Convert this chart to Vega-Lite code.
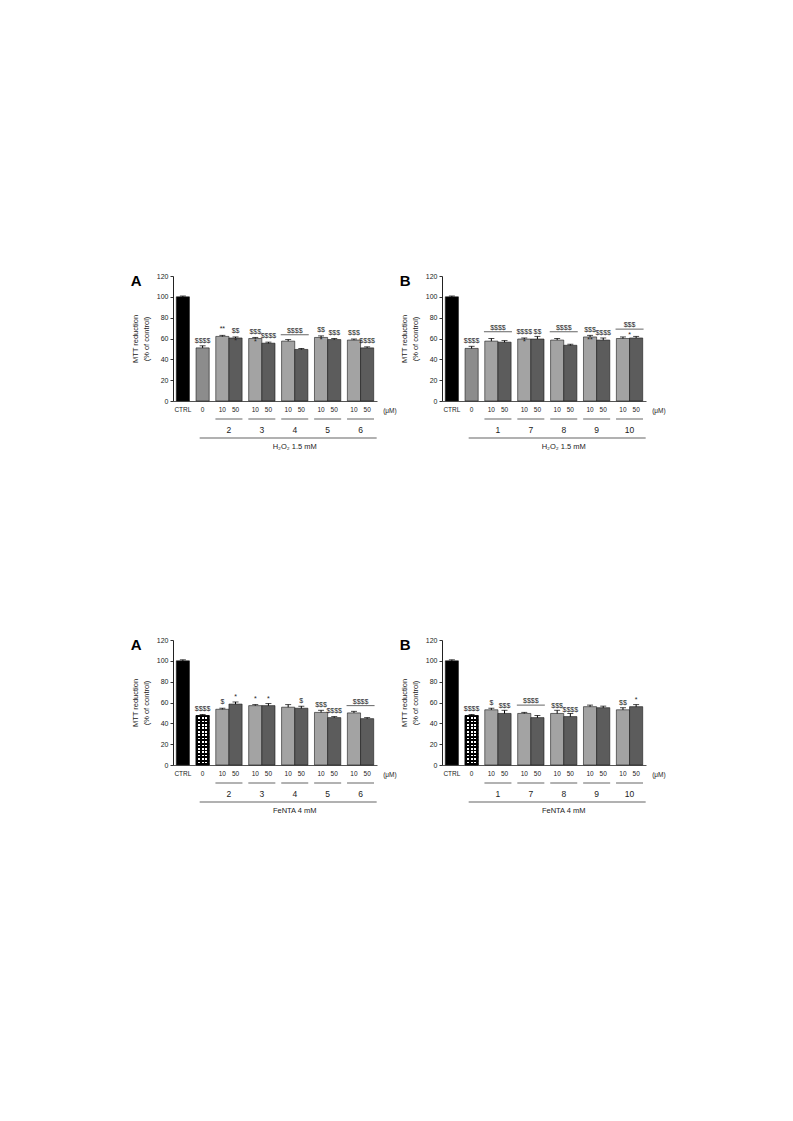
{
"$schema": "https://vega.github.io/schema/vega-lite/v6.json",
"background": "white",
"padding": {"left": 130, "top": 272, "right": 5, "bottom": 5},
"config": {
  "font": "Liberation Sans",
  "view": {"stroke": null},
  "axis": {"grid": false, "labelColor": "#222", "titleColor": "#222", "domainColor": "#333", "tickColor": "#333"},
  "text": {"color": "#222"}
},
"datasets": {
  "tA": [
    {"slot":"CTRL","grp":"CTRL","dose":"CTRL","mean":100,"err":0.8,"sig":""},
    {"slot":"0","grp":"0","dose":"0","mean":51,"err":2,"sig":"$$$$"},
    {"slot":"2|10","grp":"2","dose":"10","mean":62,"err":1,"sig":"**"},
    {"slot":"2|50","grp":"2","dose":"50","mean":60.5,"err":1,"sig":"$$\n*"},
    {"slot":"3|10","grp":"3","dose":"10","mean":60,"err":1,"sig":"$$$\n*"},
    {"slot":"3|50","grp":"3","dose":"50","mean":55.5,"err":1,"sig":"$$$$"},
    {"slot":"4|10","grp":"4","dose":"10","mean":57.5,"err":1.5,"sig":""},
    {"slot":"4|50","grp":"4","dose":"50","mean":49.5,"err":1,"sig":""},
    {"slot":"5|10","grp":"5","dose":"10","mean":61,"err":1.5,"sig":"$$\n*"},
    {"slot":"5|50","grp":"5","dose":"50","mean":59,"err":1,"sig":"$$$"},
    {"slot":"6|10","grp":"6","dose":"10","mean":58.5,"err":1,"sig":"$$$"},
    {"slot":"6|50","grp":"6","dose":"50","mean":51,"err":1,"sig":"$$$$"}
  ],
  "tA_brk": [{"grp":"4","level":63.5,"label":"$$$$"}],
  "tB": [
    {"slot":"CTRL","grp":"CTRL","dose":"CTRL","mean":100,"err":0.8,"sig":""},
    {"slot":"0","grp":"0","dose":"0","mean":50.5,"err":2,"sig":"$$$$"},
    {"slot":"1|10","grp":"1","dose":"10","mean":57.5,"err":2.5,"sig":""},
    {"slot":"1|50","grp":"1","dose":"50","mean":56.5,"err":1.5,"sig":""},
    {"slot":"7|10","grp":"7","dose":"10","mean":59.5,"err":1,"sig":"$$$$\n*"},
    {"slot":"7|50","grp":"7","dose":"50","mean":59.5,"err":2.5,"sig":"$$"},
    {"slot":"8|10","grp":"8","dose":"10","mean":58.5,"err":1.5,"sig":""},
    {"slot":"8|50","grp":"8","dose":"50","mean":53.5,"err":1,"sig":""},
    {"slot":"9|10","grp":"9","dose":"10","mean":61.5,"err":1.5,"sig":"$$$\n**"},
    {"slot":"9|50","grp":"9","dose":"50","mean":58.5,"err":2,"sig":"$$$$"},
    {"slot":"10|10","grp":"10","dose":"10","mean":60,"err":1.5,"sig":""},
    {"slot":"10|50","grp":"10","dose":"50","mean":60.5,"err":1.5,"sig":""}
  ],
  "tB_brk": [
    {"grp":"1","level":66.5,"label":"$$$$"},
    {"grp":"8","level":66.5,"label":"$$$$"},
    {"grp":"10","level":69,"label":"$$$\n*"}
  ],
  "fA": [
    {"slot":"CTRL","grp":"CTRL","dose":"CTRL","mean":100,"err":1,"sig":""},
    {"slot":"0","grp":"0","dose":"0","mean":47.5,"err":1,"sig":"$$$$"},
    {"slot":"2|10","grp":"2","dose":"10","mean":53.5,"err":1,"sig":"$"},
    {"slot":"2|50","grp":"2","dose":"50","mean":58.5,"err":2,"sig":"*"},
    {"slot":"3|10","grp":"3","dose":"10","mean":57,"err":1,"sig":"*"},
    {"slot":"3|50","grp":"3","dose":"50","mean":57,"err":2,"sig":"*"},
    {"slot":"4|10","grp":"4","dose":"10","mean":55.5,"err":2.5,"sig":""},
    {"slot":"4|50","grp":"4","dose":"50","mean":54.5,"err":2,"sig":"$"},
    {"slot":"5|10","grp":"5","dose":"10","mean":50.5,"err":2,"sig":"$$$"},
    {"slot":"5|50","grp":"5","dose":"50","mean":45.5,"err":1,"sig":"$$$$"},
    {"slot":"6|10","grp":"6","dose":"10","mean":50,"err":1.5,"sig":""},
    {"slot":"6|50","grp":"6","dose":"50","mean":44.5,"err":1,"sig":""}
  ],
  "fA_brk": [{"grp":"6","level":57,"label":"$$$$"}],
  "fB": [
    {"slot":"CTRL","grp":"CTRL","dose":"CTRL","mean":100,"err":1,"sig":""},
    {"slot":"0","grp":"0","dose":"0","mean":47.5,"err":1,"sig":"$$$$"},
    {"slot":"1|10","grp":"1","dose":"10","mean":53,"err":1.5,"sig":"$"},
    {"slot":"1|50","grp":"1","dose":"50","mean":49.5,"err":3,"sig":"$$$"},
    {"slot":"7|10","grp":"7","dose":"10","mean":49.5,"err":1,"sig":""},
    {"slot":"7|50","grp":"7","dose":"50","mean":45.5,"err":2,"sig":""},
    {"slot":"8|10","grp":"8","dose":"10","mean":49.5,"err":3,"sig":"$$$\n"},
    {"slot":"8|50","grp":"8","dose":"50","mean":46.5,"err":3,"sig":"$$$$"},
    {"slot":"9|10","grp":"9","dose":"10","mean":56,"err":1.5,"sig":""},
    {"slot":"9|50","grp":"9","dose":"50","mean":55,"err":1.5,"sig":""},
    {"slot":"10|10","grp":"10","dose":"10","mean":53,"err":2,"sig":"$$"},
    {"slot":"10|50","grp":"10","dose":"50","mean":56,"err":2,"sig":"*"}
  ],
  "fB_brk": [{"grp":"7","level":57.5,"label":"$$$$"}]
},
"bounds": "flush",
"spacing": 364,
"vconcat": [
{"hconcat": [
{
  "width": 204, "height": 125,
  "data": {"name": "tA"},
  "encoding": {
    "x": {"field": "slot", "type": "nominal",
      "scale": {"domain": ["s0","CTRL","s2","s3","0","s5","s6","2|10","2","2|50","s10","s11","3|10","3","3|50","s15","s16","4|10","4","4|50","s20","s21","5|10","5","5|50","s25","s26","6|10","6","6|50","s30"], "paddingInner": 0, "paddingOuter": 0},
      "axis": {"title": null, "ticks": false, "labelPadding": 5, "labelFontSize": 6.5, "labelAngle": 0, "labelOverlap": false, "labelBound": false, "domainColor": "#555",
        "labelExpr": "(datum.value == 'CTRL' || datum.value == '0') ? datum.value : ((datum.value == '2|10' || datum.value == '3|10' || datum.value == '4|10' || datum.value == '5|10' || datum.value == '6|10') ? '10' : ((datum.value == '2|50' || datum.value == '3|50' || datum.value == '4|50' || datum.value == '5|50' || datum.value == '6|50') ? '50' : ''))"}},
    "y": {"field": "mean", "type": "quantitative", "scale": {"domain": [0, 120], "nice": false},
      "axis": {"title": ["MTT reduction", "(% of control)"], "values": [0,20,40,60,80,100,120], "tickSize": 3, "labelFontSize": 7, "labelPadding": 2, "titleFontSize": 7.5, "titleFontWeight": "normal", "titlePadding": 6, "titleLineHeight": 11, "domainColor": "#222"}}
  },
  "layer": [
    {"mark": {"type": "errorbar", "ticks": {"size": 6, "color": "#000"}, "color": "#000", "thickness": 1}, "encoding": {"yError": {"field": "err"}}},
    {"mark": {"type": "bar", "width": {"band": 2}, "stroke": "#1a1a1a", "strokeWidth": 0.6},
     "encoding": {"fill": {"field": "dose", "type": "nominal", "legend": null, "scale": {"domain": ["CTRL","0","10","50"], "range": ["#000000","#8c8c8c","#a3a3a3","#5c5c5c"]}}}},
    {"mark": {"type": "text", "baseline": "bottom", "dy": -4, "lineBreak": "\n", "lineHeight": 10, "fontSize": 7}, "encoding": {"text": {"field": "sig"}}},
    {"data": {"name": "tA_brk"}, "mark": {"type": "tick", "size": 28, "thickness": 1, "color": "#222"},
     "encoding": {"x": {"field": "grp", "type": "nominal"}, "y": {"field": "level", "type": "quantitative"}}},
    {"data": {"name": "tA_brk"}, "mark": {"type": "text", "baseline": "bottom", "dy": -1, "lineBreak": "\n", "lineHeight": 10, "fontSize": 7},
     "encoding": {"x": {"field": "grp", "type": "nominal"}, "y": {"field": "level", "type": "quantitative"}, "text": {"field": "label"}}},
    {"transform": [{"filter": "datum.dose === '10'"}], "mark": {"type": "tick", "size": 27, "thickness": 1, "yOffset": 18, "color": "#222"},
     "encoding": {"x": {"field": "grp", "type": "nominal"}, "y": {"datum": 0, "type": "quantitative"}}},
    {"transform": [{"filter": "datum.dose === '10'"}], "mark": {"type": "text", "yOffset": 29, "baseline": "middle", "fontSize": 8.5},
     "encoding": {"x": {"field": "grp", "type": "nominal"}, "y": {"datum": 0, "type": "quantitative"}, "text": {"field": "grp"}}},
    {"transform": [{"filter": "datum.slot === '4|10'"}], "mark": {"type": "tick", "size": 177, "thickness": 1, "yOffset": 37, "color": "#222"},
     "encoding": {"y": {"datum": 0, "type": "quantitative"}}},
    {"transform": [{"filter": "datum.slot === '4|10'"}], "mark": {"type": "text", "text": "H₂O₂ 1.5 mM", "yOffset": 46, "baseline": "middle", "fontSize": 7.5},
     "encoding": {"x": {"field": "grp", "type": "nominal"}, "y": {"datum": 0, "type": "quantitative"}}},
    {"transform": [{"filter": "datum.slot === '6|50'"}], "mark": {"type": "text", "text": "(μM)", "yOffset": 10, "dx": 16, "align": "left", "baseline": "middle", "fontSize": 6.5},
     "encoding": {"y": {"datum": 0, "type": "quantitative"}}},
    {"transform": [{"filter": "datum.slot === 'CTRL'"}], "mark": {"type": "text", "text": "A", "align": "left", "baseline": "top", "dx": -52, "dy": -2, "fontSize": 15, "fontWeight": "bold", "color": "#000"},
     "encoding": {"y": {"datum": 120, "type": "quantitative"}}}
  ]
},
{
  "width": 204, "height": 125,
  "data": {"name": "tB"},
  "encoding": {
    "x": {"field": "slot", "type": "nominal",
      "scale": {"domain": ["s0","CTRL","s2","s3","0","s5","s6","1|10","1","1|50","s10","s11","7|10","7","7|50","s15","s16","8|10","8","8|50","s20","s21","9|10","9","9|50","s25","s26","10|10","10","10|50","s30"], "paddingInner": 0, "paddingOuter": 0},
      "axis": {"title": null, "ticks": false, "labelPadding": 5, "labelFontSize": 6.5, "labelAngle": 0, "labelOverlap": false, "labelBound": false, "domainColor": "#555",
        "labelExpr": "(datum.value == 'CTRL' || datum.value == '0') ? datum.value : ((datum.value == '1|10' || datum.value == '7|10' || datum.value == '8|10' || datum.value == '9|10' || datum.value == '10|10') ? '10' : ((datum.value == '1|50' || datum.value == '7|50' || datum.value == '8|50' || datum.value == '9|50' || datum.value == '10|50') ? '50' : ''))"}},
    "y": {"field": "mean", "type": "quantitative", "scale": {"domain": [0, 120], "nice": false},
      "axis": {"title": ["MTT reduction", "(% of control)"], "values": [0,20,40,60,80,100,120], "tickSize": 3, "labelFontSize": 7, "labelPadding": 2, "titleFontSize": 7.5, "titleFontWeight": "normal", "titlePadding": 6, "titleLineHeight": 11, "domainColor": "#222"}}
  },
  "layer": [
    {"mark": {"type": "errorbar", "ticks": {"size": 6, "color": "#000"}, "color": "#000", "thickness": 1}, "encoding": {"yError": {"field": "err"}}},
    {"mark": {"type": "bar", "width": {"band": 2}, "stroke": "#1a1a1a", "strokeWidth": 0.6},
     "encoding": {"fill": {"field": "dose", "type": "nominal", "legend": null, "scale": {"domain": ["CTRL","0","10","50"], "range": ["#000000","#8c8c8c","#a3a3a3","#5c5c5c"]}}}},
    {"mark": {"type": "text", "baseline": "bottom", "dy": -4, "lineBreak": "\n", "lineHeight": 10, "fontSize": 7}, "encoding": {"text": {"field": "sig"}}},
    {"data": {"name": "tB_brk"}, "mark": {"type": "tick", "size": 28, "thickness": 1, "color": "#222"},
     "encoding": {"x": {"field": "grp", "type": "nominal"}, "y": {"field": "level", "type": "quantitative"}}},
    {"data": {"name": "tB_brk"}, "mark": {"type": "text", "baseline": "bottom", "dy": -1, "lineBreak": "\n", "lineHeight": 10, "fontSize": 7},
     "encoding": {"x": {"field": "grp", "type": "nominal"}, "y": {"field": "level", "type": "quantitative"}, "text": {"field": "label"}}},
    {"transform": [{"filter": "datum.dose === '10'"}], "mark": {"type": "tick", "size": 27, "thickness": 1, "yOffset": 18, "color": "#222"},
     "encoding": {"x": {"field": "grp", "type": "nominal"}, "y": {"datum": 0, "type": "quantitative"}}},
    {"transform": [{"filter": "datum.dose === '10'"}], "mark": {"type": "text", "yOffset": 29, "baseline": "middle", "fontSize": 8.5},
     "encoding": {"x": {"field": "grp", "type": "nominal"}, "y": {"datum": 0, "type": "quantitative"}, "text": {"field": "grp"}}},
    {"transform": [{"filter": "datum.slot === '8|10'"}], "mark": {"type": "tick", "size": 177, "thickness": 1, "yOffset": 37, "color": "#222"},
     "encoding": {"y": {"datum": 0, "type": "quantitative"}}},
    {"transform": [{"filter": "datum.slot === '8|10'"}], "mark": {"type": "text", "text": "H₂O₂ 1.5 mM", "yOffset": 46, "baseline": "middle", "fontSize": 7.5},
     "encoding": {"x": {"field": "grp", "type": "nominal"}, "y": {"datum": 0, "type": "quantitative"}}},
    {"transform": [{"filter": "datum.slot === '10|50'"}], "mark": {"type": "text", "text": "(μM)", "yOffset": 10, "dx": 16, "align": "left", "baseline": "middle", "fontSize": 6.5},
     "encoding": {"y": {"datum": 0, "type": "quantitative"}}},
    {"transform": [{"filter": "datum.slot === 'CTRL'"}], "mark": {"type": "text", "text": "B", "align": "left", "baseline": "top", "dx": -52, "dy": -2, "fontSize": 15, "fontWeight": "bold", "color": "#000"},
     "encoding": {"y": {"datum": 120, "type": "quantitative"}}}
  ]
}
], "spacing": 65, "bounds": "flush"},
{"hconcat": [
{
  "width": 204, "height": 125,
  "data": {"name": "fA"},
  "encoding": {
    "x": {"field": "slot", "type": "nominal",
      "scale": {"domain": ["s0","CTRL","s2","s3","0","s5","s6","2|10","2","2|50","s10","s11","3|10","3","3|50","s15","s16","4|10","4","4|50","s20","s21","5|10","5","5|50","s25","s26","6|10","6","6|50","s30"], "paddingInner": 0, "paddingOuter": 0},
      "axis": {"title": null, "ticks": false, "labelPadding": 5, "labelFontSize": 6.5, "labelAngle": 0, "labelOverlap": false, "labelBound": false, "domainColor": "#555",
        "labelExpr": "(datum.value == 'CTRL' || datum.value == '0') ? datum.value : ((datum.value == '2|10' || datum.value == '3|10' || datum.value == '4|10' || datum.value == '5|10' || datum.value == '6|10') ? '10' : ((datum.value == '2|50' || datum.value == '3|50' || datum.value == '4|50' || datum.value == '5|50' || datum.value == '6|50') ? '50' : ''))"}},
    "y": {"field": "mean", "type": "quantitative", "scale": {"domain": [0, 120], "nice": false},
      "axis": {"title": ["MTT reduction", "(% of control)"], "values": [0,20,40,60,80,100,120], "tickSize": 3, "labelFontSize": 7, "labelPadding": 2, "titleFontSize": 7.5, "titleFontWeight": "normal", "titlePadding": 6, "titleLineHeight": 11, "domainColor": "#222"}}
  },
  "layer": [
    {"mark": {"type": "errorbar", "ticks": {"size": 6, "color": "#000"}, "color": "#000", "thickness": 1}, "encoding": {"yError": {"field": "err"}}},
    {"mark": {"type": "bar", "width": {"band": 2}, "stroke": "#1a1a1a", "strokeWidth": 0.6},
     "encoding": {"fill": {"field": "dose", "type": "nominal", "legend": null, "scale": {"domain": ["CTRL","0","10","50"], "range": ["#000000","#8c8c8c","#a3a3a3","#5c5c5c"]}}}},
    {"transform": [{"filter": "datum.dose === '0'"}],
     "mark": {"type": "bar", "width": {"band": 2},
       "fill": {"gradient": "linear", "x1": 0, "y1": 0, "x2": 0, "y2": 1, "stops": [
        {"offset":0,"color":"#000"},{"offset":0.0345,"color":"#000"},
        {"offset":0.0345,"color":"#fff"},{"offset":0.069,"color":"#fff"},
        {"offset":0.069,"color":"#000"},{"offset":0.1034,"color":"#000"},
        {"offset":0.1034,"color":"#fff"},{"offset":0.1379,"color":"#fff"},
        {"offset":0.1379,"color":"#000"},{"offset":0.1724,"color":"#000"},
        {"offset":0.1724,"color":"#fff"},{"offset":0.2069,"color":"#fff"},
        {"offset":0.2069,"color":"#000"},{"offset":0.2414,"color":"#000"},
        {"offset":0.2414,"color":"#fff"},{"offset":0.2759,"color":"#fff"},
        {"offset":0.2759,"color":"#000"},{"offset":0.3103,"color":"#000"},
        {"offset":0.3103,"color":"#fff"},{"offset":0.3448,"color":"#fff"},
        {"offset":0.3448,"color":"#000"},{"offset":0.3793,"color":"#000"},
        {"offset":0.3793,"color":"#fff"},{"offset":0.4138,"color":"#fff"},
        {"offset":0.4138,"color":"#000"},{"offset":0.4483,"color":"#000"},
        {"offset":0.4483,"color":"#fff"},{"offset":0.4828,"color":"#fff"},
        {"offset":0.4828,"color":"#000"},{"offset":0.5172,"color":"#000"},
        {"offset":0.5172,"color":"#fff"},{"offset":0.5517,"color":"#fff"},
        {"offset":0.5517,"color":"#000"},{"offset":0.5862,"color":"#000"},
        {"offset":0.5862,"color":"#fff"},{"offset":0.6207,"color":"#fff"},
        {"offset":0.6207,"color":"#000"},{"offset":0.6552,"color":"#000"},
        {"offset":0.6552,"color":"#fff"},{"offset":0.6897,"color":"#fff"},
        {"offset":0.6897,"color":"#000"},{"offset":0.7241,"color":"#000"},
        {"offset":0.7241,"color":"#fff"},{"offset":0.7586,"color":"#fff"},
        {"offset":0.7586,"color":"#000"},{"offset":0.7931,"color":"#000"},
        {"offset":0.7931,"color":"#fff"},{"offset":0.8276,"color":"#fff"},
        {"offset":0.8276,"color":"#000"},{"offset":0.8621,"color":"#000"},
        {"offset":0.8621,"color":"#fff"},{"offset":0.8966,"color":"#fff"},
        {"offset":0.8966,"color":"#000"},{"offset":0.931,"color":"#000"},
        {"offset":0.931,"color":"#fff"},{"offset":0.9655,"color":"#fff"},
        {"offset":0.9655,"color":"#000"},{"offset":1,"color":"#000"}]}}},
    {"transform": [{"filter": "datum.dose === '0'"}],
     "mark": {"type": "bar", "width": {"band": 2}, "stroke": "#000", "strokeWidth": 0.6,
       "fill": {"gradient": "linear", "x1": 0, "y1": 0, "x2": 1, "y2": 0, "stops": [
        {"offset":0,"color":"#000"},{"offset":0.1429,"color":"#000"},
        {"offset":0.1429,"color":"rgba(0,0,0,0)"},{"offset":0.2857,"color":"rgba(0,0,0,0)"},
        {"offset":0.2857,"color":"#000"},{"offset":0.4286,"color":"#000"},
        {"offset":0.4286,"color":"rgba(0,0,0,0)"},{"offset":0.5714,"color":"rgba(0,0,0,0)"},
        {"offset":0.5714,"color":"#000"},{"offset":0.7143,"color":"#000"},
        {"offset":0.7143,"color":"rgba(0,0,0,0)"},{"offset":0.8571,"color":"rgba(0,0,0,0)"},
        {"offset":0.8571,"color":"#000"},{"offset":1,"color":"#000"}]}}},
    {"mark": {"type": "text", "baseline": "bottom", "dy": -4, "lineBreak": "\n", "lineHeight": 10, "fontSize": 7}, "encoding": {"text": {"field": "sig"}}},
    {"data": {"name": "fA_brk"}, "mark": {"type": "tick", "size": 28, "thickness": 1, "color": "#222"},
     "encoding": {"x": {"field": "grp", "type": "nominal"}, "y": {"field": "level", "type": "quantitative"}}},
    {"data": {"name": "fA_brk"}, "mark": {"type": "text", "baseline": "bottom", "dy": -1, "lineBreak": "\n", "lineHeight": 10, "fontSize": 7},
     "encoding": {"x": {"field": "grp", "type": "nominal"}, "y": {"field": "level", "type": "quantitative"}, "text": {"field": "label"}}},
    {"transform": [{"filter": "datum.dose === '10'"}], "mark": {"type": "tick", "size": 27, "thickness": 1, "yOffset": 18, "color": "#222"},
     "encoding": {"x": {"field": "grp", "type": "nominal"}, "y": {"datum": 0, "type": "quantitative"}}},
    {"transform": [{"filter": "datum.dose === '10'"}], "mark": {"type": "text", "yOffset": 29, "baseline": "middle", "fontSize": 8.5},
     "encoding": {"x": {"field": "grp", "type": "nominal"}, "y": {"datum": 0, "type": "quantitative"}, "text": {"field": "grp"}}},
    {"transform": [{"filter": "datum.slot === '4|10'"}], "mark": {"type": "tick", "size": 177, "thickness": 1, "yOffset": 37, "color": "#222"},
     "encoding": {"y": {"datum": 0, "type": "quantitative"}}},
    {"transform": [{"filter": "datum.slot === '4|10'"}], "mark": {"type": "text", "text": "FeNTA 4 mM", "yOffset": 46, "baseline": "middle", "fontSize": 7.5},
     "encoding": {"x": {"field": "grp", "type": "nominal"}, "y": {"datum": 0, "type": "quantitative"}}},
    {"transform": [{"filter": "datum.slot === '6|50'"}], "mark": {"type": "text", "text": "(μM)", "yOffset": 10, "dx": 16, "align": "left", "baseline": "middle", "fontSize": 6.5},
     "encoding": {"y": {"datum": 0, "type": "quantitative"}}},
    {"transform": [{"filter": "datum.slot === 'CTRL'"}], "mark": {"type": "text", "text": "A", "align": "left", "baseline": "top", "dx": -52, "dy": -2, "fontSize": 15, "fontWeight": "bold", "color": "#000"},
     "encoding": {"y": {"datum": 120, "type": "quantitative"}}}
  ]
},
{
  "width": 204, "height": 125,
  "data": {"name": "fB"},
  "encoding": {
    "x": {"field": "slot", "type": "nominal",
      "scale": {"domain": ["s0","CTRL","s2","s3","0","s5","s6","1|10","1","1|50","s10","s11","7|10","7","7|50","s15","s16","8|10","8","8|50","s20","s21","9|10","9","9|50","s25","s26","10|10","10","10|50","s30"], "paddingInner": 0, "paddingOuter": 0},
      "axis": {"title": null, "ticks": false, "labelPadding": 5, "labelFontSize": 6.5, "labelAngle": 0, "labelOverlap": false, "labelBound": false, "domainColor": "#555",
        "labelExpr": "(datum.value == 'CTRL' || datum.value == '0') ? datum.value : ((datum.value == '1|10' || datum.value == '7|10' || datum.value == '8|10' || datum.value == '9|10' || datum.value == '10|10') ? '10' : ((datum.value == '1|50' || datum.value == '7|50' || datum.value == '8|50' || datum.value == '9|50' || datum.value == '10|50') ? '50' : ''))"}},
    "y": {"field": "mean", "type": "quantitative", "scale": {"domain": [0, 120], "nice": false},
      "axis": {"title": ["MTT reduction", "(% of control)"], "values": [0,20,40,60,80,100,120], "tickSize": 3, "labelFontSize": 7, "labelPadding": 2, "titleFontSize": 7.5, "titleFontWeight": "normal", "titlePadding": 6, "titleLineHeight": 11, "domainColor": "#222"}}
  },
  "layer": [
    {"mark": {"type": "errorbar", "ticks": {"size": 6, "color": "#000"}, "color": "#000", "thickness": 1}, "encoding": {"yError": {"field": "err"}}},
    {"mark": {"type": "bar", "width": {"band": 2}, "stroke": "#1a1a1a", "strokeWidth": 0.6},
     "encoding": {"fill": {"field": "dose", "type": "nominal", "legend": null, "scale": {"domain": ["CTRL","0","10","50"], "range": ["#000000","#8c8c8c","#a3a3a3","#5c5c5c"]}}}},
    {"transform": [{"filter": "datum.dose === '0'"}],
     "mark": {"type": "bar", "width": {"band": 2},
       "fill": {"gradient": "linear", "x1": 0, "y1": 0, "x2": 0, "y2": 1, "stops": [
        {"offset":0,"color":"#000"},{"offset":0.0345,"color":"#000"},
        {"offset":0.0345,"color":"#fff"},{"offset":0.069,"color":"#fff"},
        {"offset":0.069,"color":"#000"},{"offset":0.1034,"color":"#000"},
        {"offset":0.1034,"color":"#fff"},{"offset":0.1379,"color":"#fff"},
        {"offset":0.1379,"color":"#000"},{"offset":0.1724,"color":"#000"},
        {"offset":0.1724,"color":"#fff"},{"offset":0.2069,"color":"#fff"},
        {"offset":0.2069,"color":"#000"},{"offset":0.2414,"color":"#000"},
        {"offset":0.2414,"color":"#fff"},{"offset":0.2759,"color":"#fff"},
        {"offset":0.2759,"color":"#000"},{"offset":0.3103,"color":"#000"},
        {"offset":0.3103,"color":"#fff"},{"offset":0.3448,"color":"#fff"},
        {"offset":0.3448,"color":"#000"},{"offset":0.3793,"color":"#000"},
        {"offset":0.3793,"color":"#fff"},{"offset":0.4138,"color":"#fff"},
        {"offset":0.4138,"color":"#000"},{"offset":0.4483,"color":"#000"},
        {"offset":0.4483,"color":"#fff"},{"offset":0.4828,"color":"#fff"},
        {"offset":0.4828,"color":"#000"},{"offset":0.5172,"color":"#000"},
        {"offset":0.5172,"color":"#fff"},{"offset":0.5517,"color":"#fff"},
        {"offset":0.5517,"color":"#000"},{"offset":0.5862,"color":"#000"},
        {"offset":0.5862,"color":"#fff"},{"offset":0.6207,"color":"#fff"},
        {"offset":0.6207,"color":"#000"},{"offset":0.6552,"color":"#000"},
        {"offset":0.6552,"color":"#fff"},{"offset":0.6897,"color":"#fff"},
        {"offset":0.6897,"color":"#000"},{"offset":0.7241,"color":"#000"},
        {"offset":0.7241,"color":"#fff"},{"offset":0.7586,"color":"#fff"},
        {"offset":0.7586,"color":"#000"},{"offset":0.7931,"color":"#000"},
        {"offset":0.7931,"color":"#fff"},{"offset":0.8276,"color":"#fff"},
        {"offset":0.8276,"color":"#000"},{"offset":0.8621,"color":"#000"},
        {"offset":0.8621,"color":"#fff"},{"offset":0.8966,"color":"#fff"},
        {"offset":0.8966,"color":"#000"},{"offset":0.931,"color":"#000"},
        {"offset":0.931,"color":"#fff"},{"offset":0.9655,"color":"#fff"},
        {"offset":0.9655,"color":"#000"},{"offset":1,"color":"#000"}]}}},
    {"transform": [{"filter": "datum.dose === '0'"}],
     "mark": {"type": "bar", "width": {"band": 2}, "stroke": "#000", "strokeWidth": 0.6,
       "fill": {"gradient": "linear", "x1": 0, "y1": 0, "x2": 1, "y2": 0, "stops": [
        {"offset":0,"color":"#000"},{"offset":0.1429,"color":"#000"},
        {"offset":0.1429,"color":"rgba(0,0,0,0)"},{"offset":0.2857,"color":"rgba(0,0,0,0)"},
        {"offset":0.2857,"color":"#000"},{"offset":0.4286,"color":"#000"},
        {"offset":0.4286,"color":"rgba(0,0,0,0)"},{"offset":0.5714,"color":"rgba(0,0,0,0)"},
        {"offset":0.5714,"color":"#000"},{"offset":0.7143,"color":"#000"},
        {"offset":0.7143,"color":"rgba(0,0,0,0)"},{"offset":0.8571,"color":"rgba(0,0,0,0)"},
        {"offset":0.8571,"color":"#000"},{"offset":1,"color":"#000"}]}}},
    {"mark": {"type": "text", "baseline": "bottom", "dy": -4, "lineBreak": "\n", "lineHeight": 10, "fontSize": 7}, "encoding": {"text": {"field": "sig"}}},
    {"data": {"name": "fB_brk"}, "mark": {"type": "tick", "size": 28, "thickness": 1, "color": "#222"},
     "encoding": {"x": {"field": "grp", "type": "nominal"}, "y": {"field": "level", "type": "quantitative"}}},
    {"data": {"name": "fB_brk"}, "mark": {"type": "text", "baseline": "bottom", "dy": -1, "lineBreak": "\n", "lineHeight": 10, "fontSize": 7},
     "encoding": {"x": {"field": "grp", "type": "nominal"}, "y": {"field": "level", "type": "quantitative"}, "text": {"field": "label"}}},
    {"transform": [{"filter": "datum.dose === '10'"}], "mark": {"type": "tick", "size": 27, "thickness": 1, "yOffset": 18, "color": "#222"},
     "encoding": {"x": {"field": "grp", "type": "nominal"}, "y": {"datum": 0, "type": "quantitative"}}},
    {"transform": [{"filter": "datum.dose === '10'"}], "mark": {"type": "text", "yOffset": 29, "baseline": "middle", "fontSize": 8.5},
     "encoding": {"x": {"field": "grp", "type": "nominal"}, "y": {"datum": 0, "type": "quantitative"}, "text": {"field": "grp"}}},
    {"transform": [{"filter": "datum.slot === '8|10'"}], "mark": {"type": "tick", "size": 177, "thickness": 1, "yOffset": 37, "color": "#222"},
     "encoding": {"y": {"datum": 0, "type": "quantitative"}}},
    {"transform": [{"filter": "datum.slot === '8|10'"}], "mark": {"type": "text", "text": "FeNTA 4 mM", "yOffset": 46, "baseline": "middle", "fontSize": 7.5},
     "encoding": {"x": {"field": "grp", "type": "nominal"}, "y": {"datum": 0, "type": "quantitative"}}},
    {"transform": [{"filter": "datum.slot === '10|50'"}], "mark": {"type": "text", "text": "(μM)", "yOffset": 10, "dx": 16, "align": "left", "baseline": "middle", "fontSize": 6.5},
     "encoding": {"y": {"datum": 0, "type": "quantitative"}}},
    {"transform": [{"filter": "datum.slot === 'CTRL'"}], "mark": {"type": "text", "text": "B", "align": "left", "baseline": "top", "dx": -52, "dy": -2, "fontSize": 15, "fontWeight": "bold", "color": "#000"},
     "encoding": {"y": {"datum": 120, "type": "quantitative"}}}
  ]
}
], "spacing": 65, "bounds": "flush"}
]
}
